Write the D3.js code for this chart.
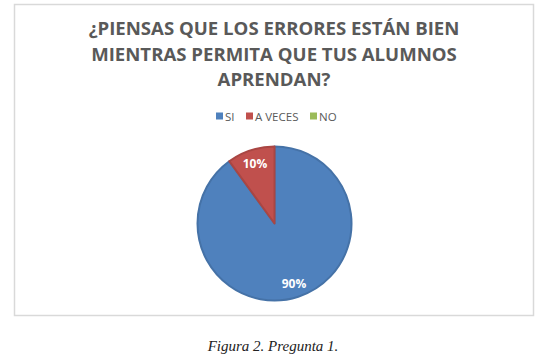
<!DOCTYPE html>
<html>
<head>
<meta charset="utf-8">
<script src="https://cdn.jsdelivr.net/npm/d3@7"></script>
<style>
  body { margin: 0; background: #fff; }
  svg { display: block; }
</style>
</head>
<body>
<script>
// DATA
var categories = ["SI", "A VECES", "NO"];
var values = [90, 10, 0];
var colors = ["#4f81bd", "#c0504d", "#9bbb59"];
var strokes = ["#4572a7", "#a94643", "#89a54e"];
var titleLines = ["¿PIENSAS QUE LOS ERRORES ESTÁN BIEN", "MIENTRAS PERMITA QUE TUS ALUMNOS", "APRENDAN?"];
var caption = "Figura 2. Pregunta 1.";

var data = categories.map(function(c, i){ return {cat: c, value: values[i], color: colors[i], stroke: strokes[i]}; });

var svg = d3.select("body").append("svg")
    .attr("width", 545)
    .attr("height", 358);

// chart area frame
svg.append("rect")
    .attr("x", 14.5).attr("y", 4.5)
    .attr("width", 519).attr("height", 311)
    .attr("fill", "#fff")
    .attr("stroke", "#d9d9d9")
    .attr("stroke-width", 1.5);

// title
svg.append("g").selectAll("text").data(titleLines)
    .enter().append("text")
    .attr("x", 274)
    .attr("y", function(d, i){ return 35 + i * 25.5; })
    .attr("text-anchor", "middle")
    .attr("font-family", "'Open Sans', sans-serif")
    .attr("font-weight", "bold")
    .attr("font-size", 18.6)
    .attr("letter-spacing", 0)
    .attr("fill", "#595959")
    .text(function(d){ return d; });

// legend
var legX = [216, 246, 310];
var leg = svg.append("g").selectAll("g").data(data)
    .enter().append("g")
    .attr("transform", function(d, i){ return "translate(" + legX[i] + ",116)"; });
leg.append("rect")
    .attr("x", 0).attr("y", -3.5)
    .attr("width", 7).attr("height", 7)
    .attr("fill", function(d){ return d.color; });
leg.append("text")
    .attr("x", 9).attr("y", 4.5)
    .attr("font-family", "'Open Sans', sans-serif")
    .attr("font-size", 11.5)
    .attr("fill", "#595959")
    .text(function(d){ return d.cat; });

// pie
var r = 77;
var pie = d3.pie().sort(null).value(function(d){ return d.value; });
var arc = d3.arc().innerRadius(0).outerRadius(r);
var labelArc = d3.arc().innerRadius(r * 0.82).outerRadius(r * 0.82);

var pg = svg.append("g").attr("transform", "translate(274.5,223.5)");
var arcs = pie(data).filter(function(d){ return d.value > 0; });
pg.selectAll("path").data(arcs)
    .enter().append("path")
    .attr("d", arc)
    .attr("fill", function(d){ return d.data.color; })
    .attr("stroke", function(d){ return d.data.stroke; })
    .attr("stroke-width", 2)
    .attr("stroke-linejoin", "round");

pg.selectAll("text").data(arcs)
    .enter().append("text")
    .attr("transform", function(d){ return "translate(" + labelArc.centroid(d) + ")"; })
    .attr("text-anchor", "middle")
    .attr("dy", "0.35em")
    .attr("font-family", "'Open Sans', sans-serif")
    .attr("font-weight", "bold")
    .attr("font-size", 12)
    .attr("fill", "#fff")
    .text(function(d){ return d.data.value + "%"; });

// caption
svg.append("text")
    .attr("x", 273)
    .attr("y", 351)
    .attr("text-anchor", "middle")
    .attr("font-family", "'Liberation Serif', serif")
    .attr("font-style", "italic")
    .attr("font-size", 15)
    .attr("fill", "#222")
    .text(caption);
</script>
</body>
</html>
